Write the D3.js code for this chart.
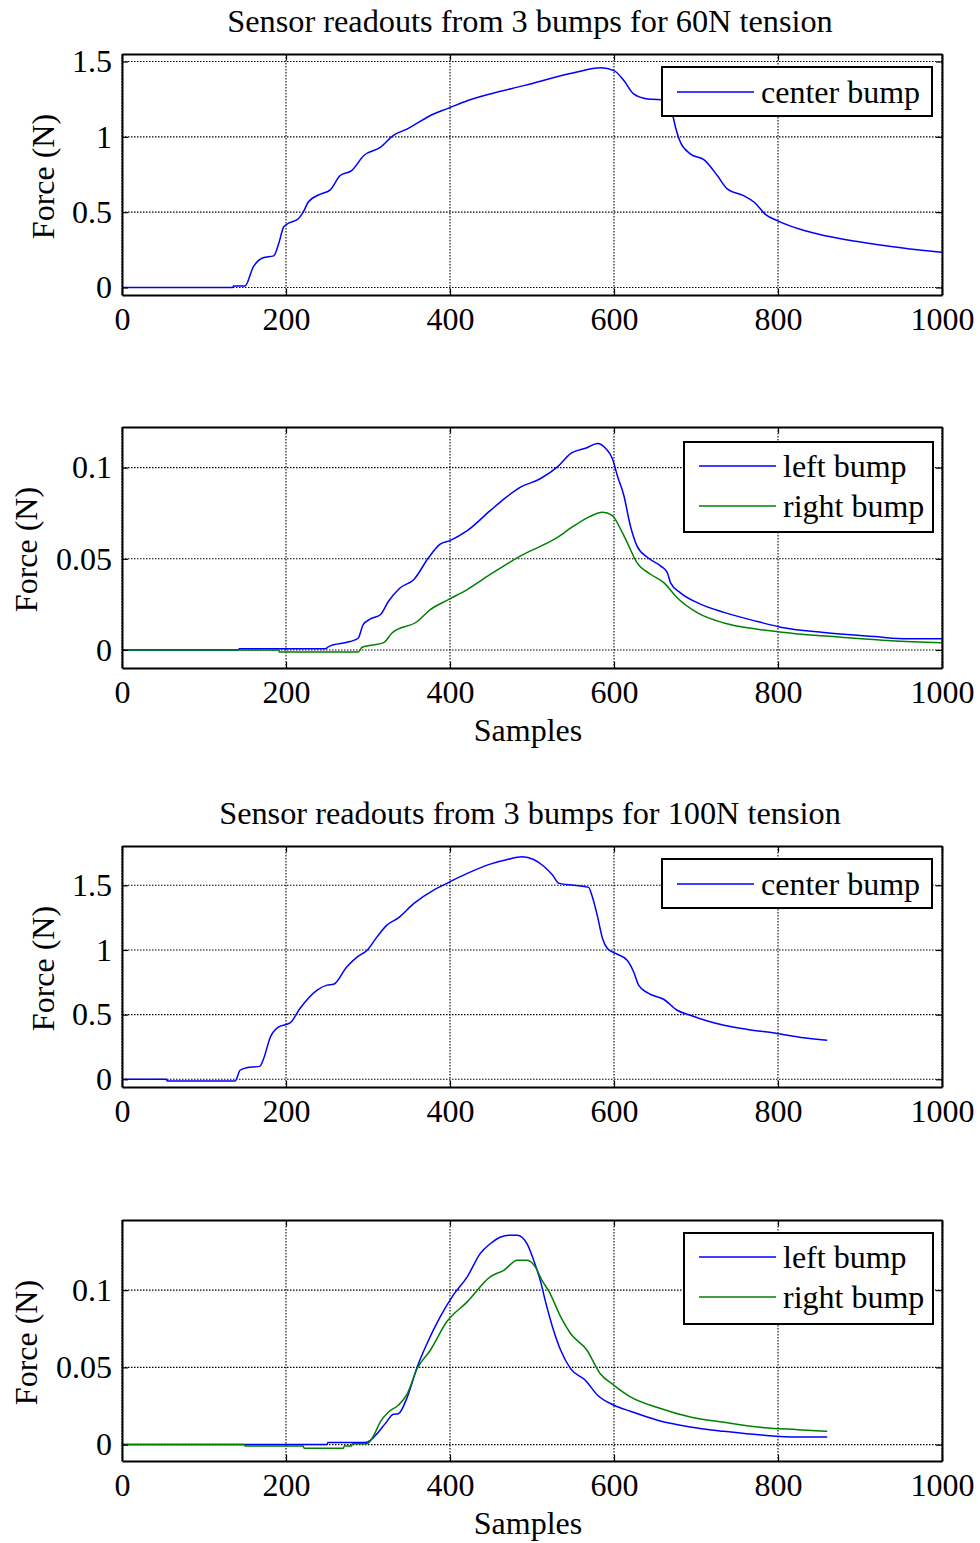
<!DOCTYPE html>
<html>
<head>
<meta charset="utf-8">
<script src="https://cdn.jsdelivr.net/npm/d3@7"></script>
<style>
  body { margin: 0; background: #fff; }
  svg { display: block; font-family: "Liberation Serif", "Times New Roman", serif; }
  .grid line { stroke: #000; stroke-width: 1.1; stroke-dasharray: 1.5,1.5; }
  .axis path.domain { stroke: #000; stroke-width: 2; }
  .axis line { stroke: #000; stroke-width: 1.2; }
  .axis text { font-family: "Liberation Serif", "Times New Roman", serif; font-size: 32px; fill: #000; }
</style>
</head>
<body>
<div id="block"></div>
<script>
// data: [sample, force]
var xTicks = [0, 200, 400, 600, 800, 1000];

var center60 = [[0,0],[135,0],[136,0.01],[150,0.01],[160,0.135],[172,0.197],[185,0.21],[191,0.29],[197,0.40],[201,0.42],[215,0.456],[221,0.50],[227,0.566],[242,0.62],[254,0.648],[266,0.743],[280,0.776],[295,0.876],[315,0.93],[331,1.01],[348,1.053],[380,1.152],[396,1.186],[421,1.24],[449,1.285],[490,1.34],[551,1.425],[584,1.458],[600,1.44],[612,1.374],[624,1.285],[641,1.252],[664,1.245],[672,1.135],[675,1.064],[681,0.964],[693,0.887],[710,0.847],[726,0.743],[738,0.655],[758,0.61],[771,0.566],[785,0.484],[799,0.444],[832,0.378],[856,0.345],[897,0.305],[938,0.272],[978,0.245],[1000,0.234]];

var left60 = [[0,0],[142,0],[143,0.0007],[248,0.0007],[252,0.0018],[278,0.0046],[288,0.0064],[294,0.0138],[303,0.017],[315,0.0193],[325,0.0267],[339,0.034],[356,0.0387],[374,0.0507],[388,0.058],[400,0.060],[421,0.0654],[449,0.0764],[466,0.0829],[486,0.0893],[510,0.0939],[531,0.1004],[547,0.1077],[567,0.1109],[580,0.1133],[590,0.1105],[598,0.105],[604,0.0957],[612,0.0847],[620,0.068],[628,0.0571],[641,0.0507],[657,0.046],[665,0.0424],[669,0.0368],[681,0.0313],[702,0.0258],[734,0.0206],[775,0.0156],[803,0.0125],[856,0.0096],[917,0.0074],[958,0.0061],[1000,0.0061]];

var right60 = [[0,0],[191,0],[192,-0.0011],[288,-0.0011],[293,0.0015],[319,0.004],[329,0.0092],[360,0.0156],[376,0.0221],[398,0.0276],[421,0.0331],[449,0.0414],[486,0.0516],[531,0.0617],[551,0.068],[571,0.0733],[586,0.0755],[598,0.0737],[608,0.0663],[616,0.059],[628,0.0479],[645,0.0414],[661,0.0368],[677,0.0286],[702,0.0203],[734,0.0148],[775,0.0114],[816,0.0092],[877,0.007],[938,0.0051],[1000,0.004]];

var center100 = [[0,0],[54,0],[55,-0.013],[138,-0.013],[144,0.07],[152,0.09],[168,0.10],[172,0.147],[181,0.327],[191,0.405],[205,0.436],[217,0.547],[238,0.689],[250,0.728],[258,0.735],[274,0.869],[287,0.947],[299,0.998],[311,1.101],[323,1.192],[337,1.248],[356,1.36],[380,1.463],[396,1.515],[421,1.592],[449,1.664],[470,1.70],[488,1.72],[502,1.70],[514,1.649],[525,1.579],[533,1.515],[551,1.50],[569,1.484],[573,1.424],[580,1.256],[586,1.089],[592,1.012],[602,0.973],[616,0.921],[624,0.83],[630,0.728],[641,0.668],[661,0.617],[677,0.534],[693,0.495],[714,0.451],[734,0.418],[763,0.385],[799,0.354],[828,0.323],[860,0.302]];

var left100 = [[0,0],[250,0],[251,0.0013],[297,0.0013],[303,0.0028],[311,0.0071],[321,0.0136],[331,0.0196],[337,0.020],[348,0.0309],[360,0.0503],[372,0.0655],[388,0.0827],[404,0.0968],[421,0.1086],[437,0.1238],[449,0.13],[461,0.1342],[472,0.1356],[482,0.1356],[494,0.13],[502,0.1194],[510,0.1065],[516,0.0935],[525,0.0762],[535,0.0611],[547,0.0492],[565,0.0417],[580,0.032],[600,0.0255],[620,0.0216],[653,0.0158],[693,0.0114],[734,0.0086],[783,0.006],[824,0.0049],[860,0.0049]];

var right100 = [[0,0],[149,0],[150,-0.0009],[221,-0.0009],[222,-0.0024],[270,-0.0024],[271,-0.0009],[280,-0.0009],[281,0.0006],[299,0.0006],[307,0.006],[315,0.0147],[325,0.0211],[337,0.0255],[348,0.033],[360,0.0493],[376,0.0611],[396,0.0795],[421,0.0924],[449,0.1086],[466,0.113],[482,0.1194],[494,0.1194],[504,0.1151],[512,0.1065],[521,0.0989],[535,0.0827],[547,0.0719],[567,0.0611],[583,0.046],[600,0.0384],[620,0.0309],[653,0.024],[693,0.0179],[734,0.0145],[783,0.011],[824,0.0097],[860,0.0086]];

var yTicksBig = [0, 0.5, 1, 1.5];
var yTicksSmall = [0, 0.05, 0.1];
var titles = ["Sensor readouts from 3 bumps for 60N tension", "Sensor readouts from 3 bumps for 100N tension"];

var BLUE = "#0000ff", GREEN = "#008000";

// panels
var panels = [
    {top: 54, bottom: 295, ydom: [-0.05, 1.55], yticks: yTicksBig, ylabX: 54, title: titles[0],
     series: [{name: "center bump", data: center60, color: BLUE}], leg: {x: 662, y: 67, w: 270, h: 49}},
    {top: 427, bottom: 668, ydom: [-0.0099, 0.1223], yticks: yTicksSmall, ylabX: 37, xlabel: "Samples",
     series: [{name: "left bump", data: left60, color: BLUE}, {name: "right bump", data: right60, color: GREEN}],
     leg: {x: 684, y: 442, w: 249, h: 90}},
    {top: 846, bottom: 1087, ydom: [-0.0596, 1.804], yticks: yTicksBig, ylabX: 54, title: titles[1],
     series: [{name: "center bump", data: center100, color: BLUE}], leg: {x: 662, y: 859, w: 270, h: 49}},
    {top: 1220, bottom: 1461, ydom: [-0.0106, 0.1454], yticks: yTicksSmall, ylabX: 37, xlabel: "Samples",
     series: [{name: "left bump", data: left100, color: BLUE}, {name: "right bump", data: right100, color: GREEN}],
     leg: {x: 684, y: 1233, w: 249, h: 91}}
];

var svg_dx = 980, svg_dy = 1543,
    left = 122, right = 942;

var svg = d3.select("#block")
            .append("svg")
            .attr("width", svg_dx)
            .attr("height", svg_dy);

var xScale = d3.scaleLinear().domain([0, 1000]).range([left, right]);

panels.forEach(function (p, i) {
    var yScale = d3.scaleLinear().domain(p.ydom).range([p.bottom, p.top]);
    var g = svg.append("g");

    g.append("clipPath").attr("id", "clip" + i)
     .append("rect")
     .attr("x", left).attr("y", p.top)
     .attr("width", right - left).attr("height", p.bottom - p.top);

    // grid
    var grid = g.append("g").attr("class", "grid");
    grid.selectAll(".gx").data(xTicks).enter().append("line")
        .attr("x1", function (d) { return xScale(d); })
        .attr("x2", function (d) { return xScale(d); })
        .attr("y1", p.top).attr("y2", p.bottom);
    grid.selectAll(".gy").data(p.yticks).enter().append("line")
        .attr("x1", left).attr("x2", right)
        .attr("y1", function (d) { return yScale(d); })
        .attr("y2", function (d) { return yScale(d); });

    // series
    var line = d3.line()
                 .curve(d3.curveMonotoneX)
                 .x(function (d) { return xScale(d[0]); })
                 .y(function (d) { return yScale(d[1]); });
    g.append("g").attr("clip-path", "url(#clip" + i + ")")
     .selectAll("path").data(p.series).enter().append("path")
     .attr("d", function (s) { return line(s.data); })
     .attr("fill", "none")
     .attr("stroke", function (s) { return s.color; })
     .attr("stroke-width", 1.5);

    // axes, ticks pointing in
    g.append("g").attr("class", "axis")
     .attr("transform", "translate(0," + p.bottom + ")")
     .call(d3.axisBottom(xScale).tickValues(xTicks).tickSizeInner(-6).tickSizeOuter(0).tickPadding(12).tickFormat(d3.format("d")));
    g.append("g").attr("class", "axis")
     .attr("transform", "translate(0," + p.top + ")")
     .call(d3.axisTop(xScale).tickValues(xTicks).tickSizeInner(-6).tickSizeOuter(0).tickFormat(""));
    g.append("g").attr("class", "axis")
     .attr("transform", "translate(" + left + ",0)")
     .call(d3.axisLeft(yScale).tickValues(p.yticks).tickSizeInner(-6).tickSizeOuter(0).tickPadding(10).tickFormat(function (d) { return String(d); }));
    g.append("g").attr("class", "axis")
     .attr("transform", "translate(" + right + ",0)")
     .call(d3.axisRight(yScale).tickValues(p.yticks).tickSizeInner(-6).tickSizeOuter(0).tickFormat(""));
    g.selectAll(".axis .tick text").attr("font-family", null).attr("font-size", null);

    // labels
    g.append("text")
     .attr("transform", "translate(" + p.ylabX + "," + ((p.top + p.bottom) / 2 + 2) + ") rotate(-90)")
     .attr("text-anchor", "middle")
     .attr("font-size", 32)
     .text("Force (N)");
    if (p.title) {
        g.append("text")
         .attr("x", (left + right) / 2 - 2).attr("y", p.top - 22)
         .attr("text-anchor", "middle")
         .attr("font-size", 32.3)
         .text(p.title);
    }
    if (p.xlabel) {
        g.append("text")
         .attr("x", (left + right) / 2 - 4).attr("y", p.bottom + 73)
         .attr("text-anchor", "middle")
         .attr("font-size", 32)
         .text(p.xlabel);
    }

    // legend
    var lg = g.append("g").attr("transform", "translate(" + p.leg.x + "," + p.leg.y + ")");
    lg.append("rect")
      .attr("width", p.leg.w).attr("height", p.leg.h)
      .attr("fill", "#fff").attr("stroke", "#000").attr("stroke-width", 2);
    var lx = 15;
    var item = lg.selectAll(".item").data(p.series).enter().append("g")
                 .attr("transform", function (s, k) { return "translate(0," + (p.series.length > 1 ? 24 + k * 40 : 25) + ")"; });
    item.append("line")
        .attr("x1", lx).attr("x2", lx + 77)
        .attr("stroke", function (s) { return s.color; })
        .attr("stroke-width", 1.5);
    item.append("text")
        .attr("x", lx + 84).attr("y", 0)
        .attr("dy", "0.35em")
        .attr("font-size", 32)
        .text(function (s) { return s.name; });
});
</script>
</body>
</html>
